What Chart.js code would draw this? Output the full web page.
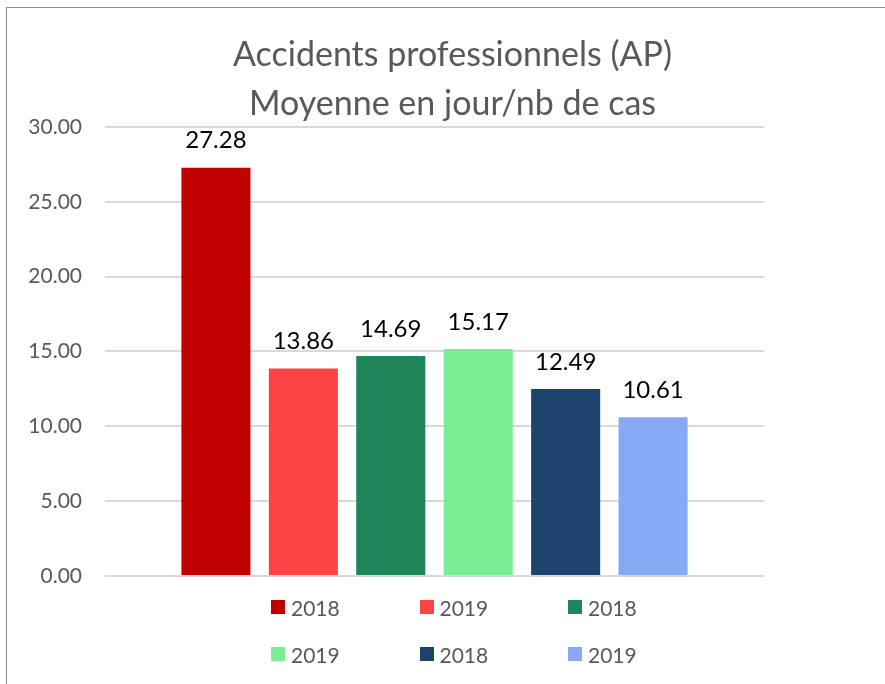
<!DOCTYPE html>
<html>
<head>
<meta charset="utf-8">
<script src="https://cdn.jsdelivr.net/npm/chart.js@4.4.0/dist/chart.umd.min.js"></script>
<style>
  body { margin: 0; background: #fff; }
  #wrap { position: relative; width: 885px; height: 684px; overflow: hidden; }
  #cadre { position: absolute; left: 6px; top: 7px; width: 900px; height: 700px;
           border-top: 1px solid #8a8a8a; border-left: 1px solid #8a8a8a; }
  #grafico { position: absolute; left: 0; top: 0; }
  #leyenda { position: absolute; left: 271px; top: 596px; display: grid;
             grid-template-columns: 148.5px 148.5px 148.5px; row-gap: 25px; }
  .item { display: flex; align-items: center; height: 22px;
          font-family: Lato, sans-serif; font-size: 21px; color: #595959; }
  .caja { width: 14px; height: 14px; margin-right: 6px; }
</style>
</head>
<body>
<div id="wrap">
  <div id="cadre"></div>
  <canvas id="grafico" width="885" height="684"></canvas>
  <div id="leyenda"></div>
</div>
<script>
const titulo = ["Accidents professionnels (AP)", "Moyenne en jour/nb de cas"]
const annees = ["2018", "2019", "2018", "2019", "2018", "2019"]
const moyennes = [27.28, 13.86, 14.69, 15.17, 12.49, 10.61]
const couleurs = ["#C00000", "#FC4444", "#1E8459", "#79EE95", "#1B436B", "#85A9F5"]
const ticksY = [0, 5, 10, 15, 20, 25, 30]

// etiquetas arriba de cada barra
const etiquetas = {
  id: "etiquetas",
  afterDatasetsDraw(chart) {
    const ctx = chart.ctx
    ctx.save()
    ctx.font = "24px Lato"
    ctx.fillStyle = "#000"
    ctx.textAlign = "center"
    ctx.textBaseline = "middle"
    chart.data.datasets.forEach((ds, i) => {
      const bar = chart.getDatasetMeta(i).data[0]
      ctx.fillText(ds.data[0].toFixed(2), bar.x, bar.y - 27)
    })
    ctx.restore()
  }
}

// leyenda html en 3 columnas
const leyendaHtml = {
  id: "leyendaHtml",
  afterUpdate(chart) {
    const cont = document.querySelector("#leyenda")
    cont.innerHTML = ""
    const items = chart.options.plugins.legend.labels.generateLabels(chart)
    items.forEach(item => {
      cont.innerHTML += `<div class="item"><span class="caja" style="background:${item.fillStyle}"></span>${item.text}</div>`
    })
  }
}

const datasets = moyennes.map((v, i) => ({
  label: annees[i],
  data: [v],
  backgroundColor: couleurs[i],
  categoryPercentage: 0.796,
  barPercentage: 0.79
}))

new Chart(document.getElementById("grafico"), {
  type: "bar",
  data: { labels: [""], datasets: datasets },
  options: {
    responsive: false,
    animation: false,
    layout: { padding: { left: 20, right: 0, top: 0, bottom: 108 } },
    plugins: {
      legend: { display: false },
      tooltip: { enabled: false },
      title: {
        display: true,
        text: titulo,
        color: "#595959",
        font: { family: "Lato", size: 34, weight: "normal", lineHeight: 1.44 },
        padding: { top: 31, bottom: -2 }
      }
    },
    scales: {
      x: { display: false },
      y: {
        min: 0,
        max: 30,
        afterBuildTicks: scale => { scale.ticks = ticksY.map(v => ({ value: v })) },
        afterFit: scale => { scale.width = 85 },
        border: { display: false },
        grid: { color: "#D9D9D9", lineWidth: 2, drawTicks: false },
        ticks: {
          padding: 23,
          color: "#595959",
          font: { family: "Lato", size: 21 },
          callback: v => v.toFixed(2)
        }
      },
      // eje vacio a la derecha, solo para dejar el margen
      y2: {
        position: "right",
        border: { display: false },
        grid: { display: false },
        ticks: { display: false },
        afterFit: scale => { scale.width = 121 }
      }
    }
  },
  plugins: [etiquetas, leyendaHtml]
})
</script>
</body>
</html>
